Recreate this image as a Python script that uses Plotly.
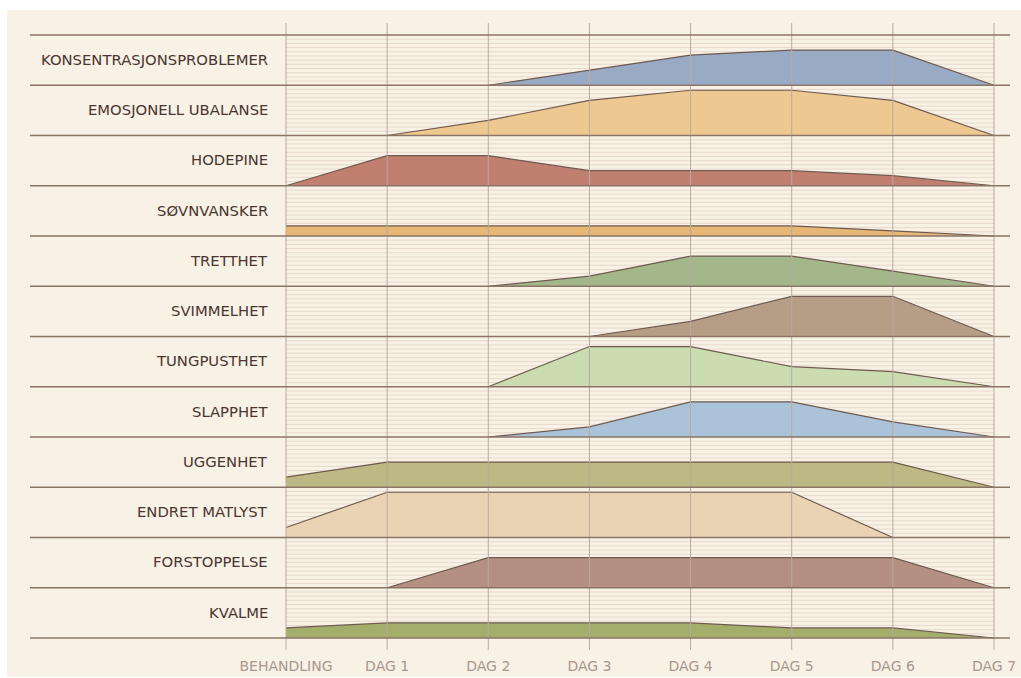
import plotly.graph_objects as go

# ---------------- data ----------------
tick_labels = ["BEHANDLING", "DAG 1", "DAG 2", "DAG 3", "DAG 4", "DAG 5", "DAG 6", "DAG 7"]
symptoms = [
    "KONSENTRASJONSPROBLEMER", "EMOSJONELL UBALANSE", "HODEPINE", "SØVNVANSKER",
    "TRETTHET", "SVIMMELHET", "TUNGPUSTHET", "SLAPPHET", "UGGENHET",
    "ENDRET MATLYST", "FORSTOPPELSE", "KVALME",
]
konsentrasjon = [None, None, 0, 3, 6, 7, 7, 0]
emosjonell = [None, 0, 3, 7, 9, 9, 7, 0]
hodepine = [0, 6, 6, 3, 3, 3, 2, 0]
sovnvansker = [2, 2, 2, 2, 2, 2, 1, 0]
tretthet = [None, None, 0, 2, 6, 6, 3, 0]
svimmelhet = [None, None, None, 0, 3, 8, 8, 0]
tungpusthet = [None, None, 0, 8, 8, 4, 3, 0]
slapphet = [None, None, 0, 2, 7, 7, 3, 0]
uggenhet = [2, 5, 5, 5, 5, 5, 5, 0]
endret_matlyst = [2, 9, 9, 9, 9, 9, 0, None]
forstoppelse = [None, 0, 6, 6, 6, 6, 6, 0]
kvalme = [2, 3, 3, 3, 3, 2, 2, 0]
series = [konsentrasjon, emosjonell, hodepine, sovnvansker, tretthet, svimmelhet,
          tungpusthet, slapphet, uggenhet, endret_matlyst, forstoppelse, kvalme]
colors = ["#99aac4", "#eec891", "#c17f70", "#e6b775", "#a4b78b", "#b69e86",
          "#cbdcb0", "#abc3d8", "#bdb884", "#ead3b3", "#b58f82", "#a3ae6b"]

ROW = 10          # units per row
NROW = len(symptoms)
days = list(range(len(tick_labels)))

fig = go.Figure()

# background stripes inside the plot region
sx, sy = [], []
for i in range(NROW):
    base = (NROW - 1 - i) * ROW
    for k in range(1, 12):
        yv = base + k * ROW / 12
        sx += [days[0], days[-1], None]
        sy += [yv, yv, None]
fig.add_trace(go.Scatter(x=sx, y=sy, mode="lines", line=dict(color="#e8d9cc", width=1),
                         hoverinfo="skip", showlegend=False))

# area polygons
for i, (name, vals, col) in enumerate(zip(symptoms, series, colors)):
    base = (NROW - 1 - i) * ROW
    pts = [(d, v) for d, v in zip(days, vals) if v is not None]
    xs = [p[0] for p in pts]
    ys = [base + p[1] for p in pts]
    px = xs + xs[::-1]
    py = ys + [base] * len(xs)
    fig.add_trace(go.Scatter(x=px, y=py, mode="lines", fill="toself", fillcolor=col,
                             line=dict(color=col, width=0), name=name,
                             hoverinfo="skip", showlegend=False))
    fig.add_trace(go.Scatter(x=xs, y=ys, mode="lines", line=dict(color="#6e5a50", width=1.2),
                             hoverinfo="skip", showlegend=False))

# plot geometry (pixel mapping)
W, H = 1021, 678
mt, mb = 23, 26
x_px0, x_px7 = 286, 994
kx = (x_px7 - x_px0) / 7
xmin = -x_px0 / kx
xmax = xmin + W / kx
y_top_px, y_bot_px = 35, 638
ky = (y_bot_px - y_top_px) / (NROW * ROW)
ymax = NROW * ROW + (y_top_px - mt) / ky
ymin = -((H - mb) - y_bot_px) / ky
PH = H - mt - mb

shapes = []
# cream background
shapes.append(dict(type="rect", xref="paper", yref="paper", x0=7 / W, x1=1.0,
                   y0=((H - mb) - 677) / PH, y1=((H - mb) - 10) / PH,
                   fillcolor="#f8f1e5", line=dict(width=0), layer="below"))
# vertical grid lines
for d in days:
    shapes.append(dict(type="line", xref="x", yref="paper", x0=d, x1=d,
                       y0=((H - mb) - 650) / PH, y1=1,
                       line=dict(color="#b9aaa0", width=1), layer="above"))
# row boundaries
x_left = (30 - x_px0) / kx
x_right = (1010 - x_px0) / kx
for i in range(NROW + 1):
    yv = i * ROW
    shapes.append(dict(type="line", xref="x", yref="y", x0=x_left, x1=x_right, y0=yv, y1=yv,
                       line=dict(color="#8b7566", width=1.6), layer="above"))

annotations = []
for i, name in enumerate(symptoms):
    base = (NROW - 1 - i) * ROW
    annotations.append(dict(x=(270 - x_px0) / kx, y=base + ROW / 2 + 0.15, xref="x", yref="y",
                            text=name, showarrow=False, xanchor="right", yanchor="middle",
                            font=dict(family="DejaVu Sans", size=14.8, color="#4a3530")))

fig.update_layout(
    width=W, height=H,
    margin=dict(l=0, r=0, t=mt, b=mb),
    paper_bgcolor="#ffffff", plot_bgcolor="rgba(0,0,0,0)",
    xaxis=dict(range=[xmin, xmax], showgrid=False, zeroline=False, showline=False,
               tickmode="array", tickvals=days, ticktext=tick_labels, ticks="",
               ticklabelstandoff=4,
               tickfont=dict(family="DejaVu Sans", size=14, color="#a8978d")),
    yaxis=dict(range=[ymin, ymax], showgrid=False, zeroline=False, showline=False,
               showticklabels=False),
    shapes=shapes, annotations=annotations,
)

fig.write_html("out.html", config={"displayModeBar": False},
               post_script="document.body.style.margin='0';document.body.style.overflow='hidden';")
